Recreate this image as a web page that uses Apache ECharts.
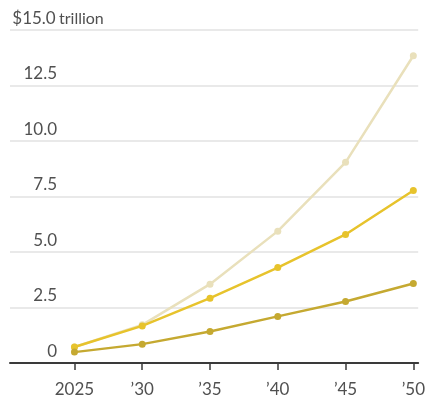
<!DOCTYPE html>
<html>
<head>
<meta charset="utf-8">
<script src="https://cdn.jsdelivr.net/npm/echarts@6/dist/echarts.min.js"></script>
<style>
  html, body { margin: 0; padding: 0; background: #fff; }
  #chart { width: 428px; height: 398px; }
</style>
</head>
<body>
<div id="chart"></div>
<script>
// Years on the horizontal axis
const years = [2025, 2030, 2035, 2040, 2045, 2050];
const yearLabels = ['2025', '\u201930', '\u201935', '\u201940', '\u201945', '\u201950'];

// Projected values, trillions of dollars
const highSeries = [0.72, 1.72, 3.55, 5.94, 9.04, 13.84];
const midSeries = [0.72, 1.67, 2.92, 4.30, 5.79, 7.77];
const lowSeries = [0.49, 0.85, 1.42, 2.10, 2.77, 3.58];

// Value-axis tick labels
const yTicks = [0, 2.5, 5, 7.5, 10, 12.5, 15];
const yTickText = ['0', '2.5', '5.0', '7.5', '10.0', '12.5', '$15.0'];

const FONT = 'Lato';

function pairs(vals) {
  return years.map((y, i) => [y, vals[i]]);
}

function lineSeries(name, vals, color, z) {
  return {
    name: name,
    type: 'line',
    data: pairs(vals),
    z: z,
    symbol: 'circle',
    symbolSize: 7,
    showSymbol: true,
    lineStyle: { color: color, width: 2.5 },
    itemStyle: { color: color },
    emphasis: { disabled: true },
    animation: false
  };
}

const chart = echarts.init(document.getElementById('chart'), null, { renderer: 'canvas' });

chart.setOption({
  backgroundColor: '#ffffff',
  grid: { left: 10, right: 0, top: 30, bottom: 34, containLabel: false },
  xAxis: {
    type: 'value',
    min: 2020.245,
    max: 2050.36,
    splitLine: { show: false },
    axisLine: { show: true, onZero: false, lineStyle: { color: '#3a3a3a', width: 2 } },
    axisTick: {
      show: true,
      customValues: years,
      length: 7,
      lineStyle: { color: '#3a3a3a', width: 1.5 }
    },
    axisLabel: {
      customValues: years,
      margin: 18,
      fontFamily: FONT,
      fontSize: 17,
      color: '#505050',
      formatter: function (v) {
        const i = years.indexOf(Math.round(v));
        return i >= 0 ? yearLabels[i] : '';
      }
    }
  },
  yAxis: {
    type: 'value',
    min: 0,
    max: 15,
    interval: 2.5,
    axisLine: { show: false },
    axisTick: { show: false },
    splitLine: { show: true, lineStyle: { color: '#e2e2e2', width: 1.5 } },
    axisLabel: {
      inside: true,
      margin: 1,
      verticalAlign: 'bottom',
      padding: [0, 0, 3, 0],
      formatter: function (v) {
        const i = yTicks.indexOf(v);
        const t = i >= 0 ? yTickText[i] : '';
        return v === 15 ? '{n|' + t + '}{u|trillion}' : '{n|' + t + '}';
      },
      rich: {
        n: { width: 46, align: 'right', fontFamily: FONT, fontSize: 17, color: '#505050' },
        u: { fontFamily: FONT, fontSize: 16, color: '#505050', padding: [0, 0, 0, 2] }
      }
    }
  },
  series: [
    lineSeries('High', highSeries, '#e9e0bb', 2),
    lineSeries('Middle', midSeries, '#e7c32c', 3),
    lineSeries('Low', lowSeries, '#c5a931', 4)
  ]
});
</script>
</body>
</html>
